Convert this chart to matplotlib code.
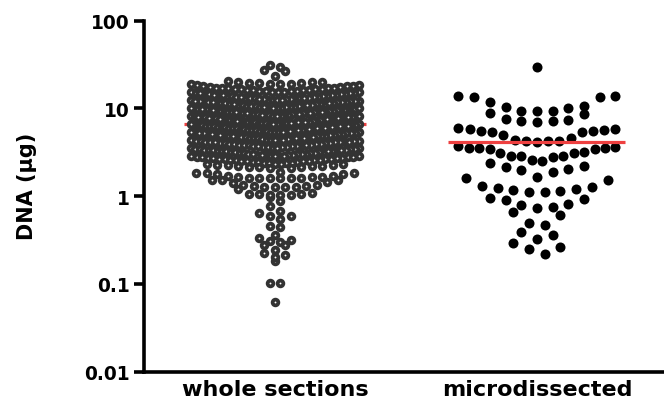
import numpy as np
import matplotlib
matplotlib.use("Agg")
import matplotlib.pyplot as plt

# ---------------- data ----------------
categories = ["whole sections", "microdissected"]

whole_sections = [
    # top outliers
    31.3, 29.5, 27.2, 26.8, 23.4,
    20.4, 19.8, 19.5, 19.2, 20.1, 19.0, 19.6, 18.8, 19.3, 18.5, 18.2, 19.9, 18.0, 17.8, 18.6, 17.6, 19.1,
    17.4, 17.2, 17.0, 16.9, 16.7, 16.5, 16.4, 16.2, 16.0, 15.9, 15.8, 15.6, 17.3, 16.8, 16.3, 15.7, 17.1, 16.6, 16.1, 15.5,
    15.4, 15.2, 15.0, 14.9, 14.7, 14.5, 14.4, 14.2, 14.0, 13.9, 13.8, 13.6, 15.3, 15.1, 14.8, 14.6, 14.3, 14.1, 13.7, 13.5, 14.9, 14.4,
    13.4, 13.3, 13.2, 13.1, 13.0, 12.9, 12.8, 12.7, 12.6, 12.5, 12.4, 12.3, 12.2, 12.1, 12.0, 13.35, 13.05, 12.75, 12.45, 12.15, 13.15, 12.85, 12.55, 12.25,
    11.9, 11.8, 11.7, 11.6, 11.5, 11.4, 11.3, 11.2, 11.1, 11.0, 10.9, 10.8, 10.7, 10.6, 10.5, 11.85, 11.55, 11.25, 10.95, 10.65, 11.75, 11.45, 11.15, 10.85, 10.55,
    10.4, 10.3, 10.2, 10.1, 10.0, 9.9, 9.8, 9.7, 9.6, 9.5, 9.4, 9.3, 10.45, 10.25, 10.05, 9.85, 9.65, 9.45, 10.35, 10.15, 9.95, 9.75, 9.55, 9.35, 10.0, 9.8,
    9.25, 9.2, 9.15, 9.1, 9.05, 9.0, 8.95, 8.9, 8.85, 8.8, 8.75, 8.7, 8.65, 8.6, 8.55, 8.5, 8.45, 8.4, 8.35, 8.3, 9.1, 8.9, 8.7, 8.5, 9.0, 8.8,
    8.25, 8.2, 8.15, 8.1, 8.05, 8.0, 7.95, 7.9, 7.85, 7.8, 7.75, 7.7, 7.65, 7.6, 7.55, 7.5, 7.45, 7.4, 7.35, 7.3, 8.1, 7.9, 7.7, 7.5, 8.0, 7.8, 7.6,
    7.25, 7.2, 7.15, 7.1, 7.05, 7.0, 6.95, 6.9, 6.85, 6.8, 6.75, 6.7, 6.65, 6.6, 6.55, 6.5, 7.2, 7.0, 6.8, 6.6, 7.1, 6.9, 6.7, 7.05, 6.85, 6.65, 6.95,
    6.45, 6.4, 6.35, 6.3, 6.25, 6.2, 6.15, 6.1, 6.05, 6.0, 5.95, 5.9, 5.85, 5.8, 6.4, 6.2, 6.0, 5.9, 6.3, 6.1, 6.35, 6.15, 5.95, 6.25, 6.05, 5.85,
    5.75, 5.7, 5.65, 5.6, 5.55, 5.5, 5.45, 5.4, 5.35, 5.3, 5.25, 5.2, 5.15, 5.1, 5.7, 5.5, 5.3, 5.6, 5.4, 5.2, 5.65, 5.45, 5.25, 5.55, 5.35,
    5.05, 5.0, 4.95, 4.9, 4.85, 4.8, 4.75, 4.7, 4.65, 4.6, 4.55, 4.5, 5.0, 4.9, 4.8, 4.7, 4.6, 4.95, 4.85, 4.75, 4.65, 4.55, 5.05, 4.8,
    4.48, 4.45, 4.42, 4.4, 4.37, 4.35, 4.32, 4.3, 4.27, 4.25, 4.22, 4.2, 4.17, 4.15, 4.12, 4.1, 4.07, 4.05, 4.02, 4.0, 4.4, 4.2, 4.1,
    3.98, 3.95, 3.92, 3.9, 3.87, 3.85, 3.82, 3.8, 3.77, 3.75, 3.72, 3.7, 3.67, 3.65, 3.62, 3.6, 3.57, 3.55, 3.52, 3.5, 3.8, 3.7,
    3.48, 3.46, 3.44, 3.42, 3.4, 3.38, 3.36, 3.34, 3.32, 3.3, 3.28, 3.26, 3.24, 3.22, 3.2, 3.18, 3.16, 3.14, 3.12, 3.1, 3.35, 3.25,
    3.08, 3.06, 3.04, 3.02, 3.0, 2.98, 2.96, 2.94, 2.92, 2.9, 2.88, 2.86, 2.84, 2.82, 2.8, 2.78, 2.76, 3.0, 2.95, 2.9, 2.85, 2.8,
    2.74, 2.72, 2.7, 2.68, 2.66, 2.64, 2.62, 2.6, 2.58, 2.56, 2.54, 2.52, 2.5, 2.48, 2.46, 2.44, 2.42, 2.4, 2.6, 2.5,
    2.38, 2.36, 2.34, 2.32, 2.3, 2.28, 2.26, 2.24, 2.22, 2.2, 2.18, 2.16, 2.14, 2.12, 2.1, 2.3, 2.2,
    # lower tail
    1.85, 1.80, 1.72, 1.67, 1.61, 1.63, 1.63, 1.62, 1.63, 1.64, 1.63, 1.66, 1.70, 1.78, 1.82, 1.83, 1.90,
    1.51, 1.42, 1.35, 1.32, 1.27, 1.27, 1.21, 1.27, 1.27, 1.32, 1.35, 1.45, 1.51, 1.51,
    1.06, 1.03, 1.02, 0.97, 0.89, 1.02, 1.06, 1.06, 1.08,
    0.78, 0.67, 0.64, 0.60, 0.60, 0.55,
    0.46, 0.45,
    0.318, 0.30, 0.279, 0.336, 0.362, 0.312, 0.214, 0.246, 0.279, 0.182, 0.205, 0.224,
    0.103, 0.102, 0.062,
]

microdissected = [
    30.0,
    14.0, 13.8, 13.6, 13.6, 11.97, 10.6, 10.5, 10.15, 9.45, 9.45, 9.38,
    8.83, 8.74, 7.54, 7.41, 7.27, 7.27, 6.97,
    5.96, 5.89, 5.85, 5.70, 5.59, 5.59, 5.45, 5.40, 5.04, 4.62, 4.42, 4.30, 4.30, 4.27, 4.12,
    3.74, 3.67, 3.55, 3.55, 3.52, 3.46, 3.41, 3.22, 3.09, 3.09, 2.86, 2.86, 2.86, 2.78,
    2.59, 2.53, 2.40, 2.23, 2.14, 2.05, 1.99, 1.88,
    1.65, 1.60, 1.51,
    1.32, 1.27, 1.23, 1.21, 1.18, 1.14, 1.11, 1.11,
    0.949, 0.93, 0.908, 0.817, 0.802, 0.755, 0.736,
    0.657, 0.617,
    0.496, 0.475,
    0.389, 0.365, 0.326,
    0.291, 0.262, 0.251, 0.22,
]

center_lines = [6.6, 4.2]   # red horizontal lines

ytick_values = [0.01, 0.1, 1, 10, 100]
ytick_labels = ["0.01", "0.1", "1", "10", "100"]


# ---------------- layout helper (GraphPad-like binned scatter) ----------------
def binned_scatter_x(values, center, spacing, max_half, bin_h, bin_origin):
    logs = np.log10(np.asarray(values, dtype=float))
    bins = np.floor((logs - bin_origin) / bin_h)
    xs = np.zeros(len(logs))
    for b in np.unique(bins):
        idx = np.where(bins == b)[0]
        idx = idx[np.argsort(logs[idx], kind="stable")]
        n = len(idx)
        sp = spacing
        if n > 1 and (n - 1) * spacing / 2 > max_half:
            sp = 2 * max_half / (n - 1)
        offs = []
        k = 0.5
        if n % 2 == 1:
            offs.append(0.0)
            k = 1.0
        while len(offs) < n:
            offs.append(k)
            if len(offs) < n:
                offs.append(-k)
            k += 1
        xs[idx] = center + np.array(offs) * sp
    return xs


plt.rcParams["font.family"] = ["DejaVu Sans"]
plt.rcParams["font.weight"] = "bold"

fig = plt.figure(figsize=(6.64, 4.10), dpi=100)
ax = fig.add_axes([144 / 664, 37.3 / 410, (664 - 144) / 664, 351.0 / 410])

px_per_unit = 262.0
px_per_decade = 87.75

x_whole = binned_scatter_x(whole_sections, 0.0, 10.5 / px_per_unit, 84 / px_per_unit,
                           8.0 / px_per_decade, 0.0)
x_micro = binned_scatter_x(microdissected, 1.0, 15.7 / px_per_unit, 78.5 / px_per_unit,
                           16.4 / px_per_decade, (197.3 - 112.8) / px_per_decade)

ax.plot([-0.347, 0.347], [center_lines[0]] * 2, color="#ee4040", lw=2.3, zorder=2,
        solid_capstyle="butt")
ax.scatter(x_whole, whole_sections, s=17, facecolor="white", edgecolor="#333333",
           linewidths=2.7, zorder=3)
ax.scatter(x_micro, microdissected, s=52, color="black", linewidths=0, zorder=3)
ax.plot([1 - 0.338, 1 + 0.338], [center_lines[1]] * 2, color="#ee4040", lw=2.3, zorder=4,
        solid_capstyle="butt")

ax.set_yscale("log")
ax.set_ylim(0.01, 100)
ax.set_xlim(-0.5, 1.485)
ax.set_yticks(ytick_values)
ax.set_yticklabels(ytick_labels)
ax.yaxis.set_minor_locator(matplotlib.ticker.NullLocator())
ax.set_xticks([0, 1])
ax.set_xticklabels(categories)

for s in ["top", "right"]:
    ax.spines[s].set_visible(False)
for s in ["left", "bottom"]:
    ax.spines[s].set_linewidth(2.6)

ax.tick_params(axis="y", length=7.5, width=2.6, pad=3, labelsize=13.4)
ax.tick_params(axis="x", length=0, pad=5, labelsize=16)
for lab in ax.get_xticklabels() + ax.get_yticklabels():
    lab.set_fontweight("bold")

ax.set_ylabel("DNA (\u03bcg)", fontsize=15, fontweight="bold")
ax.yaxis.set_label_coords(-0.205, 0.53)

fig.savefig("out.png", dpi=100)
